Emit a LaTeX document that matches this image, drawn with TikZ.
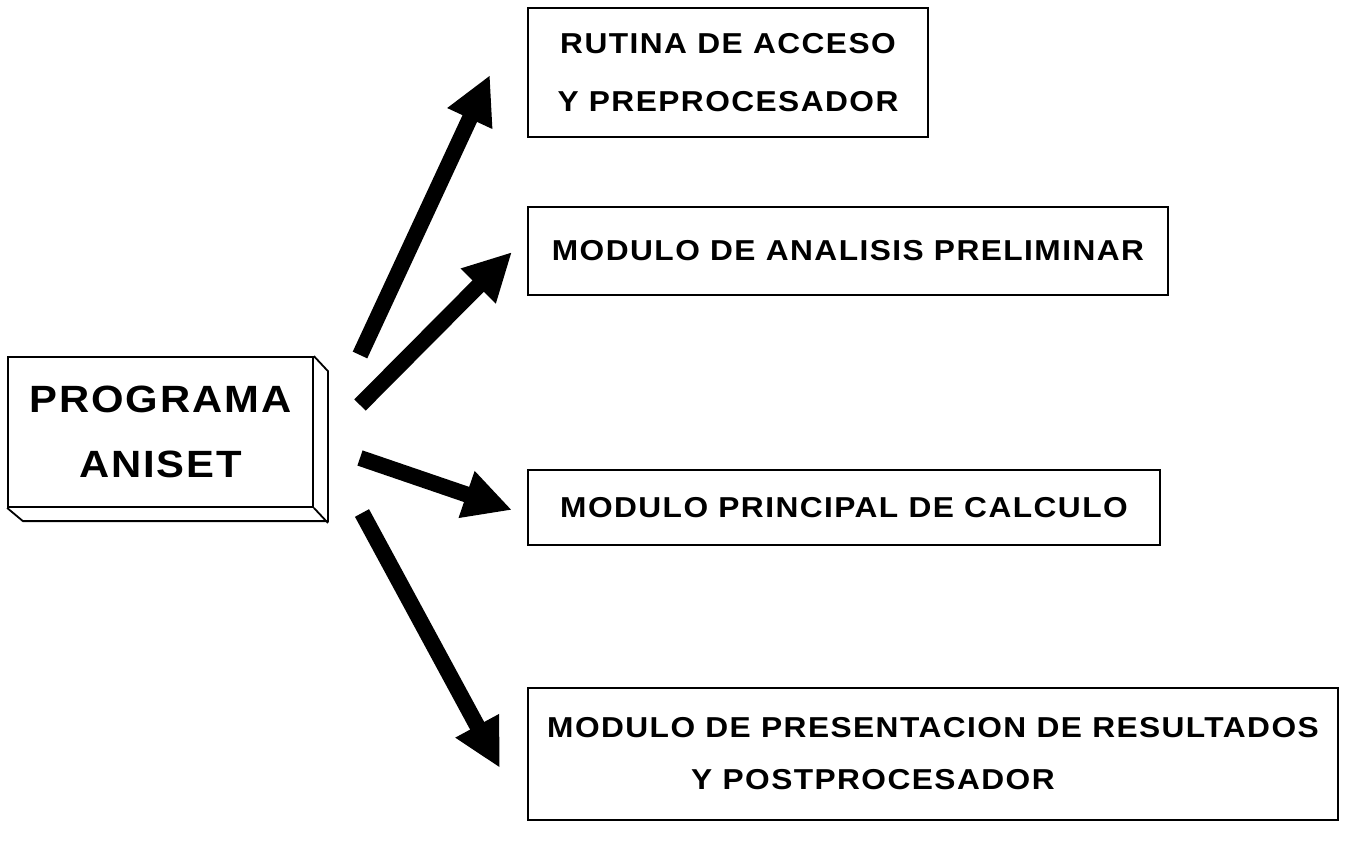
\documentclass[tikz,border=0pt]{standalone}
\usepackage{fontspec}
\usepackage{tikz}
\usetikzlibrary{arrows.meta,positioning}
\newfontfamily\boxfont{Liberation Sans}[FakeStretch=1.1,LetterSpace=5]
\tikzset{
  modbox/.style={draw, line width=0.9pt, align=center, inner sep=0pt,
    font={\boxfont\bfseries\fontsize{14.4}{29}\selectfont}},
  flecha/.style={line width=8pt, -{Triangle[length=24pt,width=23pt]}}
}

\begin{document}
\begin{tikzpicture}[x=0.5pt, y=-0.5pt]
		\useasboundingbox (0,0) rectangle (1346,851);

		% Programa principal (caja en relieve)
		\node[modbox, minimum width=152.5pt, minimum height=75pt,
		  font={\boxfont\bfseries\fontsize{19}{32.5}\selectfont}]
		  (prog) at (160.5,432) {PROGRAMA\\ANISET};
		\draw[line width=0.9pt] (prog.north east) -- ++(14,15) -- ++(0,150) -- ++(-305,0) -- (prog.south west);
		\draw[line width=0.9pt] (prog.south east) -- ++(14,15);

		% Modulos
		\node[modbox, minimum width=200pt, minimum height=64.5pt]
		  (acceso) at (728,72.5) {RUTINA DE ACCESO\\Y PREPROCESADOR};
		\node[modbox, minimum width=320pt, minimum height=44pt]
		  (analisis) at (848,251) {MODULO DE ANALISIS PRELIMINAR};
		\node[modbox, minimum width=316pt, minimum height=37.5pt]
		  (calculo) at (844,507.5) {MODULO PRINCIPAL DE CALCULO};
		\node[modbox, minimum width=405pt, minimum height=66pt, align=left,
		  font={\boxfont\bfseries\fontsize{14.4}{26}\selectfont}]
		  (result) at (933,754) {MODULO DE PRESENTACION DE RESULTADOS\\\hspace*{72pt}Y POSTPROCESADOR};

		% Flechas
		\coordinate (c1) at (360,355);
		\coordinate (c2) at (360,405);
		\coordinate (c3) at (360,458);
		\coordinate (c4) at (362,513);
		\coordinate (p1) at (490,75);
		\coordinate (p2) at (512,252);
		\coordinate (p3) at (512,510);
		\coordinate (p4) at (500,768);
		\draw[flecha] (c1) -- (p1);
		\draw[flecha] (c2) -- (p2);
		\draw[flecha] (c3) -- (p3);
		\draw[flecha] (c4) -- (p4);

	\end{tikzpicture}
\end{document}
